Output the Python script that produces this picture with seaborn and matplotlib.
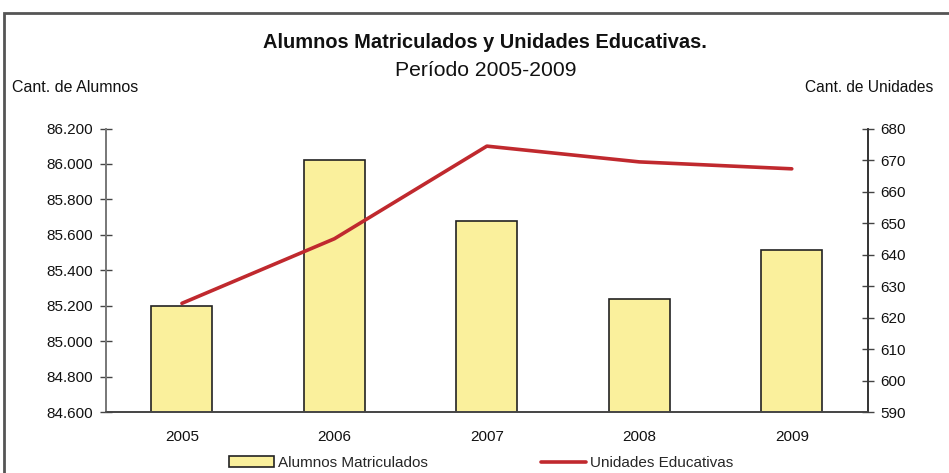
import numpy as np
import pandas as pd
import matplotlib
matplotlib.use("Agg")
import matplotlib.pyplot as plt
from matplotlib.patches import Rectangle
from matplotlib.ticker import FuncFormatter, FixedLocator
import seaborn as sns

# ── data ───────────────────────────────────────────────────────────────────────
years = ["2005", "2006", "2007", "2008", "2009"]
alumnos = [85197, 86020, 85676, 85237, 85513]      # left axis, bars
unidades = [624.5, 645, 674.4, 669.4, 667.2]        # right axis, line

BAR_COLOR = "#FAF09C"
LINE_COLOR = "#C0292E"
FS = 11


def miles(v, _pos=None):
    return f"{v:,.0f}".replace(",", ".")


sns.set_style("white")
plt.rcParams["font.family"] = ["Liberation Sans", "DejaVu Sans"]

fig = plt.figure(figsize=(9.49, 4.73), dpi=100)
L, R, T, B = 105.7, 868, 128.5, 412
ax = fig.add_axes([L / 949, 1 - B / 473, (R - L) / 949, (B - T) / 473])

df = pd.DataFrame({"year": years, "alumnos": alumnos, "unidades": unidades})

# bars
sns.barplot(data=df, x="year", y="alumnos", ax=ax, color=BAR_COLOR,
            edgecolor="#222222", linewidth=1.2, width=0.4, saturation=1,
            label="Alumnos Matriculados")
ax.set_ylim(84600, 86200)
ax.set_xlim(-0.5, len(years) - 0.5)
ax.yaxis.set_major_locator(FixedLocator(np.arange(84600, 86201, 200)))
ax.yaxis.set_major_formatter(FuncFormatter(miles))
ax.set_xlabel("")
ax.set_ylabel("")

# line on twin axis
ax2 = ax.twinx()
df["pos"] = np.arange(len(years))
sns.lineplot(data=df, x="pos", y="unidades", ax=ax2, color=LINE_COLOR,
             linewidth=2.6, label="Unidades Educativas", legend=False)
ax2.set_ylim(590, 680)
ax2.yaxis.set_major_locator(FixedLocator(np.arange(590, 681, 10)))
ax2.set_xlim(-0.5, len(years) - 0.5)
ax2.set_xlabel("")
ax2.set_ylabel("")

# spines & ticks in the spreadsheet style
for a in (ax, ax2):
    a.spines["top"].set_visible(False)
    a.spines["left"].set_color("#777777")
    a.spines["right"].set_color("#333333")
    a.spines["bottom"].set_color("#444444")
    for s in ("left", "right", "bottom"):
        a.spines[s].set_linewidth(1.2)
for a in (ax, ax2):
    a.tick_params(axis="y", direction="inout", length=8, width=1,
                  colors="#444444", labelsize=FS, pad=5, labelcolor="#111111")
ax.tick_params(axis="x", which="major", length=0, labelsize=FS, pad=13,
               labelcolor="#111111")
ax.set_xticks(np.arange(-0.5, len(years), 1.0), minor=True)
ax.tick_params(axis="x", which="minor", direction="inout", length=9, width=1,
               colors="#444444")

# titles
fig.text(485 / 949, 1 - 43 / 473, "Alumnos Matriculados y Unidades Educativas.",
         ha="center", va="center", fontsize=14.4, fontweight="bold",
         color="#111111")
fig.text(486 / 949, 1 - 70 / 473, "Período 2005-2009", ha="center",
         va="center", fontsize=15.2, color="#111111")
fig.text(12 / 949, 1 - 87 / 473, "Cant. de Alumnos", ha="left", va="center",
         fontsize=11.5, color="#111111")
fig.text(933 / 949, 1 - 87 / 473, "Cant. de Unidades", ha="right",
         va="center", fontsize=11.2, color="#111111")

# legend
h1, l1 = ax.get_legend_handles_labels()
h2, l2 = ax2.get_legend_handles_labels()
leg = fig.legend(h1 + h2, l1 + l2, loc="center", ncol=2, frameon=False,
                 bbox_to_anchor=(481 / 949, 1 - 463 / 473), fontsize=FS,
                 handlelength=2.95, handleheight=0.75, handletextpad=0.25,
                 columnspacing=7.4)
if ax.get_legend() is not None:
    ax.get_legend().remove()

# outer frame, cut by the image edges on the right and bottom
fig.add_artist(Rectangle((4 / 949, -0.05), 1.2, 1.05 - 13 / 473,
                         transform=fig.transFigure, fill=False,
                         edgecolor="#555555", linewidth=2.0))

fig.savefig("out.png", dpi=100)
plt.close(fig)
